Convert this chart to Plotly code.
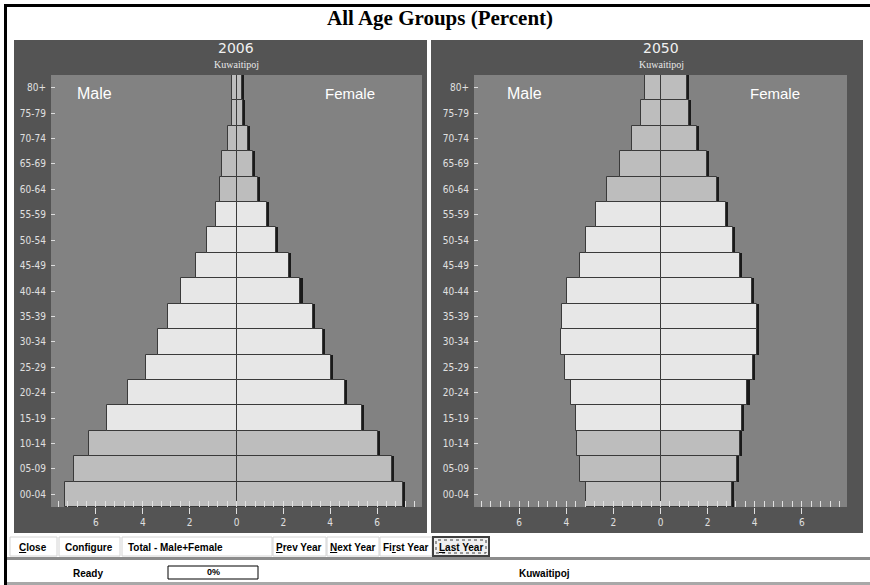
import plotly.graph_objects as go

W, H = 870, 585

age_groups = ["00-04", "05-09", "10-14", "15-19", "20-24", "25-29", "30-34", "35-39",
              "40-44", "45-49", "50-54", "55-59", "60-64", "65-69", "70-74", "75-79", "80+"]

male_2006 = [7.32, 6.95, 6.28, 5.51, 4.64, 3.85, 3.34, 2.93, 2.39, 1.72, 1.28, 0.87, 0.72, 0.63, 0.35, 0.21, 0.18]
female_2006 = [7.11, 6.64, 6.03, 5.36, 4.63, 4.05, 3.69, 3.28, 2.73, 2.23, 1.69, 1.31, 0.92, 0.71, 0.50, 0.27, 0.24]
male_2050 = [3.15, 3.40, 3.53, 3.57, 3.82, 4.04, 4.21, 4.17, 3.96, 3.40, 3.15, 2.74, 2.27, 1.74, 1.21, 0.84, 0.66]
female_2050 = [3.05, 3.26, 3.37, 3.45, 3.69, 3.94, 4.11, 4.09, 3.90, 3.37, 3.09, 2.78, 2.38, 1.96, 1.56, 1.22, 1.12]

x_tickvals = [-6, -4, -2, 0, 2, 4, 6]
x_ticktext = ["6", "4", "2", "0", "2", "4", "6"]

years = ["2006", "2050"]
country = "Kuwaitipoj"

DARK_GROUPS = {"00-04", "05-09", "10-14", "60-64", "65-69", "70-74", "75-79", "80+"}
bar_colors = ["#bdbdbd" if a in DARK_GROUPS else "#e7e7e7" for a in age_groups]


def px(x):
    return x / W


def py(y):
    return 1 - y / H


fig = go.Figure()

panels = [("x", "y", male_2006, female_2006), ("x2", "y2", male_2050, female_2050)]
for xa, ya, male, female in panels:
    # shadow (3D effect) behind female bars
    fig.add_trace(go.Bar(y=age_groups, x=[v + 0.09 for v in female], orientation="h",
                         xaxis=xa, yaxis=ya, marker=dict(color="#1a1a1a", line=dict(width=0)),
                         showlegend=False, hoverinfo="skip"))
    fig.add_trace(go.Bar(y=age_groups, x=[-v for v in male], orientation="h", xaxis=xa, yaxis=ya,
                         marker=dict(color=bar_colors, line=dict(color="#3a3a3a", width=1)),
                         showlegend=False, name="Male"))
    fig.add_trace(go.Bar(y=age_groups, x=female, orientation="h", xaxis=xa, yaxis=ya,
                         marker=dict(color=bar_colors, line=dict(color="#3a3a3a", width=1)),
                         showlegend=False, name="Female"))

xaxis_common = dict(range=[-7.92, 7.92], tickvals=x_tickvals, ticktext=x_ticktext,
                    ticks="outside", ticklen=6, tickcolor="#e0e0e0", tickwidth=1,
                    minor=dict(dtick=0.4, tick0=0, ticks="inside", ticklen=6, tickcolor="#e0e0e0"),
                    tickfont=dict(family="DejaVu Sans Condensed, DejaVu Sans, sans-serif", size=10, color="#e0e0e0"),
                    showgrid=False, zeroline=True, zerolinecolor="#1e1e1e", zerolinewidth=1,
                    layer="above traces", fixedrange=True, showline=False)
yaxis_common = dict(type="category", categoryorder="array", categoryarray=age_groups,
                    range=[-0.5, 16.5], ticks="inside", ticklen=4, tickcolor="#dddddd",
                    ticklabelstandoff=4,
                    tickfont=dict(family="DejaVu Sans Condensed, DejaVu Sans, sans-serif", size=10, color="#e0e0e0"),
                    showgrid=False, zeroline=False, showline=False, fixedrange=True)

ydom = [py(507), py(75)]
plot_areas = [(51, 422), (474, 847)]
fig.update_layout(
    width=W, height=H, margin=dict(l=0, r=0, t=0, b=0),
    paper_bgcolor="white", plot_bgcolor="rgba(0,0,0,0)",
    barmode="overlay", bargap=0,
    xaxis=dict(domain=[px(plot_areas[0][0]), px(plot_areas[0][1])], anchor="y", **xaxis_common),
    yaxis=dict(domain=ydom, anchor="x", **yaxis_common),
    xaxis2=dict(domain=[px(plot_areas[1][0]), px(plot_areas[1][1])], anchor="y2", **xaxis_common),
    yaxis2=dict(domain=ydom, anchor="x2", **yaxis_common),
)

shapes = []
# dark panels and plot areas
for (x0, x1), (p0, p1) in zip([(14, 427), (431, 863)], plot_areas):
    shapes.append(dict(type="rect", xref="paper", yref="paper", x0=px(x0), x1=px(x1),
                       y0=py(533), y1=py(40), fillcolor="#545454", line=dict(width=0), layer="below"))
    shapes.append(dict(type="rect", xref="paper", yref="paper", x0=px(p0), x1=px(p1),
                       y0=py(507), y1=py(75), fillcolor="#828282", line=dict(width=0), layer="below"))
# window frame
shapes.append(dict(type="rect", xref="paper", yref="paper", x0=px(4), x1=px(7), y0=py(585), y1=py(4),
                   fillcolor="black", line=dict(width=0)))
shapes.append(dict(type="rect", xref="paper", yref="paper", x0=px(4), x1=px(870), y0=py(7), y1=py(4),
                   fillcolor="black", line=dict(width=0)))
# status separator
shapes.append(dict(type="rect", xref="paper", yref="paper", x0=px(7), x1=px(870), y0=py(560), y1=py(557),
                   fillcolor="#8c8c8c", line=dict(width=0)))
shapes.append(dict(type="rect", xref="paper", yref="paper", x0=px(7), x1=px(870), y0=py(585), y1=py(582),
                   fillcolor="#a8a8a8", line=dict(width=0)))
# buttons
buttons = [(10, 57), (59, 120), (122, 272), (273, 326), (327, 379), (380, 432)]
for x0, x1 in buttons:
    shapes.append(dict(type="rect", xref="paper", yref="paper", x0=px(x0), x1=px(x1),
                       y0=py(556), y1=py(537), line=dict(color="#d4d4d4", width=1), fillcolor="rgba(0,0,0,0)"))
shapes.append(dict(type="rect", xref="paper", yref="paper", x0=px(433), x1=px(489),
                   y0=py(556), y1=py(537), line=dict(color="#404040", width=2), fillcolor="#f0f0f0"))
shapes.append(dict(type="rect", xref="paper", yref="paper", x0=px(436), x1=px(486),
                   y0=py(553), y1=py(540), line=dict(color="#404040", width=1, dash="dot"), fillcolor="rgba(0,0,0,0)"))
# progress box
shapes.append(dict(type="rect", xref="paper", yref="paper", x0=px(168), x1=px(258),
                   y0=py(579), y1=py(566), line=dict(color="black", width=1), fillcolor="white"))

annotations = []


def ann(text, x, y, size, color, family, xanchor="center"):
    annotations.append(dict(text=text, x=px(x), y=py(y), xref="paper", yref="paper",
                            showarrow=False, xanchor=xanchor, yanchor="middle",
                            font=dict(size=size, color=color, family=family)))


ann("<b>All Age Groups (Percent)</b>", 440, 18, 21, "black", "Liberation Serif, Times New Roman, serif")
for cx, cx_m, cx_f, yr in [(236, 94, 350, years[0]), (661, 524, 775, years[1])]:
    ann(yr, cx, 48, 14, "#f0f0f0", "DejaVu Sans, Verdana, sans-serif")
    ann(country, cx, 64, 10, "#e8e8e8", "Liberation Serif, Times New Roman, serif")
    ann("Male", cx_m, 93, 16, "white", "Liberation Sans, Arial, sans-serif")
    ann("Female", cx_f, 93, 15, "white", "Liberation Sans, Arial, sans-serif")

btn_font = "Liberation Sans, Arial, sans-serif"
ann("<b><u>C</u>lose</b>", 33, 547, 10, "black", btn_font)
ann("<b>Configure</b>", 89, 547, 10, "black", btn_font)
ann("<b>Total - Male+Female</b>", 126, 547, 10, "black", btn_font, xanchor="left")
ann("<b><u>P</u>rev Year</b>", 299, 547, 10, "black", btn_font)
ann("<b><u>N</u>ext Year</b>", 353, 547, 10, "black", btn_font)
ann("<b>Fi<u>r</u>st Year</b>", 406, 547, 10, "black", btn_font)
ann("<b><u>L</u>ast Year</b>", 461, 547, 10, "black", btn_font)
ann("<b>Ready</b>", 88, 573, 10, "black", btn_font)
ann("<b>0%</b>", 213, 572, 9, "black", btn_font)
ann("<b>" + country + "</b>", 544, 573, 10, "black", btn_font)

fig.update_layout(shapes=shapes, annotations=annotations)

fig.write_html("out.html", config={"displayModeBar": False},
               post_script="document.body.style.margin='0';document.body.style.overflow='hidden';")
